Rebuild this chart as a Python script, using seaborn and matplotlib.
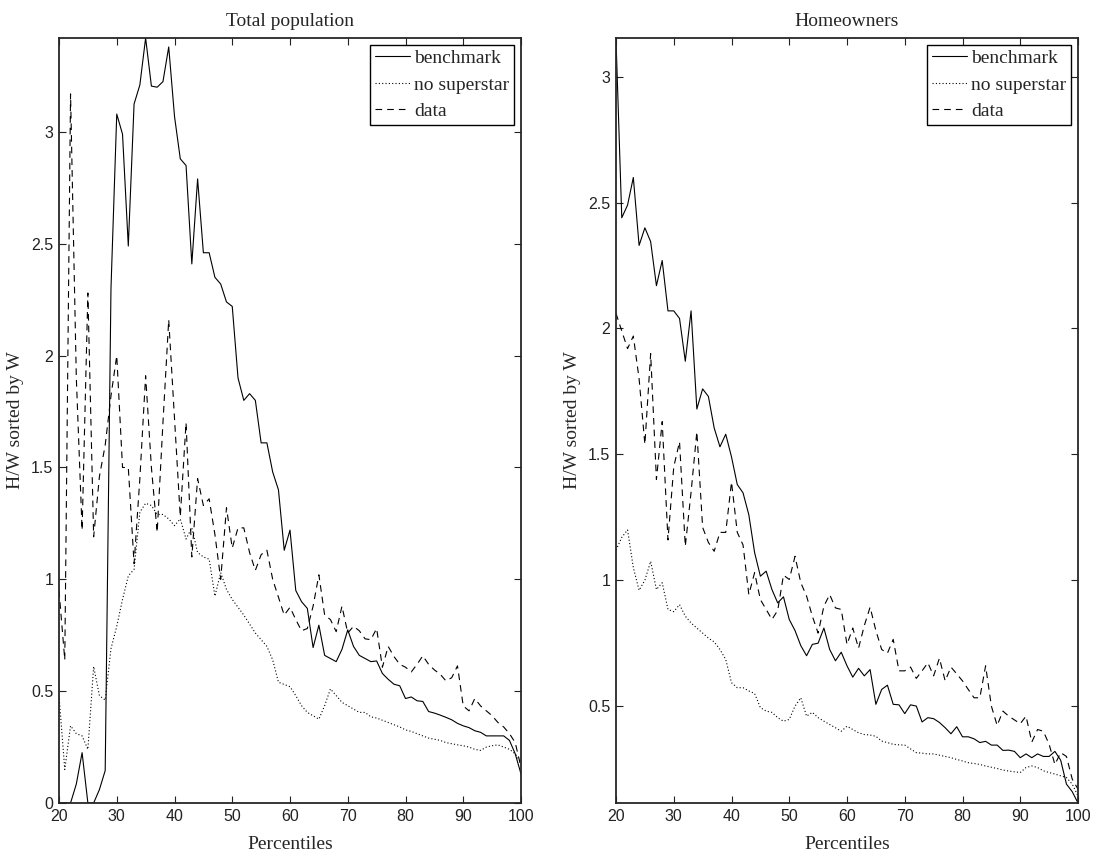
import matplotlib
matplotlib.use("Agg")
import matplotlib.pyplot as plt
import seaborn as sns
from matplotlib.ticker import FuncFormatter

percentiles = list(range(20, 101))

total_benchmark = [0, 0, 0, 0.085, 0.225, 0, 0, 0.06, 0.145, 2.3,
                   3.08, 2.99, 2.49, 3.125, 3.21, 3.42, 3.205, 3.20, 3.225, 3.38,
                   3.07, 2.88, 2.85, 2.41, 2.79, 2.46, 2.46, 2.35, 2.32, 2.24,
                   2.22, 1.90, 1.80, 1.83, 1.80, 1.61, 1.61, 1.48, 1.40, 1.13,
                   1.22, 0.95, 0.90, 0.87, 0.695, 0.795, 0.66, 0.646, 0.632, 0.687,
                   0.774, 0.70, 0.66, 0.646, 0.632, 0.635, 0.579, 0.553, 0.531, 0.524,
                   0.467, 0.474, 0.457, 0.454, 0.409, 0.402, 0.393, 0.383, 0.372, 0.356,
                   0.345, 0.337, 0.323, 0.316, 0.30, 0.30, 0.30, 0.30, 0.28, 0.22,
                   0.13]
total_nosuperstar = [0.48, 0.15, 0.345, 0.31, 0.30, 0.24, 0.61, 0.48, 0.46, 0.69,
                     0.79, 0.91, 1.015, 1.045, 1.3, 1.34, 1.33, 1.29, 1.29, 1.27,
                     1.24, 1.27, 1.18, 1.23, 1.12, 1.10, 1.09, 0.925, 1.03, 0.955,
                     0.91, 0.875, 0.84, 0.80, 0.76, 0.73, 0.70, 0.64, 0.54, 0.53,
                     0.52, 0.48, 0.435, 0.405, 0.39, 0.375, 0.435, 0.51, 0.48, 0.45,
                     0.435, 0.42, 0.405, 0.405, 0.385, 0.38, 0.37, 0.36, 0.35, 0.34,
                     0.327, 0.32, 0.31, 0.30, 0.29, 0.285, 0.28, 0.27, 0.265, 0.26,
                     0.256, 0.25, 0.24, 0.235, 0.25, 0.256, 0.26, 0.25, 0.24, 0.22,
                     0.18]
total_data = [0.95, 0.64, 3.17, 1.9, 1.22, 2.28, 1.19, 1.46, 1.6, 1.82,
              2.0, 1.5, 1.5, 1.07, 1.45, 1.91, 1.5, 1.21, 1.7, 2.16,
              1.72, 1.28, 1.7, 1.1, 1.45, 1.33, 1.36, 1.2, 1.0, 1.32,
              1.14, 1.23, 1.23, 1.12, 1.04, 1.11, 1.13, 1.0, 0.92, 0.84,
              0.875, 0.82, 0.77, 0.78, 0.88, 1.02, 0.84, 0.82, 0.766, 0.88,
              0.76, 0.79, 0.77, 0.734, 0.73, 0.78, 0.607, 0.70, 0.655, 0.62,
              0.607, 0.586, 0.62, 0.658, 0.62, 0.595, 0.576, 0.546, 0.56, 0.613,
              0.434, 0.412, 0.467, 0.434, 0.412, 0.39, 0.36, 0.34, 0.31, 0.27,
              0.16]

owner_benchmark = [3.15, 2.44, 2.49, 2.60, 2.33, 2.40, 2.345, 2.17, 2.27, 2.07,
                   2.07, 2.04, 1.87, 2.07, 1.68, 1.76, 1.73, 1.605, 1.53, 1.58,
                   1.49, 1.38, 1.347, 1.26, 1.11, 1.016, 1.036, 0.963, 0.91, 0.934,
                   0.844, 0.80, 0.74, 0.70, 0.745, 0.75, 0.81, 0.725, 0.68, 0.714,
                   0.66, 0.615, 0.65, 0.62, 0.645, 0.507, 0.566, 0.583, 0.507, 0.505,
                   0.47, 0.505, 0.50, 0.437, 0.454, 0.45, 0.435, 0.414, 0.39, 0.418,
                   0.378, 0.378, 0.37, 0.355, 0.36, 0.345, 0.345, 0.324, 0.325, 0.32,
                   0.295, 0.31, 0.295, 0.31, 0.30, 0.30, 0.32, 0.285, 0.19, 0.16,
                   0.115]
owner_nosuperstar = [1.12, 1.17, 1.2, 1.05, 0.96, 1.0, 1.075, 0.963, 0.99, 0.884,
                     0.875, 0.903, 0.857, 0.83, 0.81, 0.79, 0.77, 0.755, 0.725, 0.685,
                     0.593, 0.573, 0.573, 0.56, 0.55, 0.494, 0.48, 0.475, 0.454, 0.44,
                     0.447, 0.50, 0.533, 0.46, 0.475, 0.454, 0.44, 0.427, 0.414, 0.40,
                     0.42, 0.407, 0.394, 0.387, 0.385, 0.38, 0.361, 0.355, 0.348, 0.346,
                     0.345, 0.33, 0.315, 0.313, 0.31, 0.31, 0.305, 0.30, 0.295, 0.288,
                     0.282, 0.275, 0.272, 0.268, 0.262, 0.257, 0.252, 0.246, 0.242, 0.239,
                     0.236, 0.256, 0.262, 0.256, 0.243, 0.236, 0.23, 0.223, 0.216, 0.19,
                     0.143]
owner_data = [2.06, 1.99, 1.92, 1.97, 1.8, 1.54, 1.9, 1.40, 1.63, 1.16,
              1.45, 1.55, 1.135, 1.35, 1.59, 1.21, 1.15, 1.115, 1.19, 1.19,
              1.39, 1.19, 1.14, 0.943, 1.03, 0.923, 0.884, 0.844, 0.88, 1.02,
              1.003, 1.095, 0.99, 0.937, 0.857, 0.79, 0.897, 0.943, 0.89, 0.884,
              0.745, 0.81, 0.73, 0.82, 0.893, 0.80, 0.725, 0.71, 0.765, 0.64,
              0.64, 0.655, 0.61, 0.64, 0.672, 0.62, 0.69, 0.60, 0.655, 0.628,
              0.60, 0.566, 0.533, 0.533, 0.66, 0.50, 0.423, 0.48, 0.46, 0.445,
              0.43, 0.46, 0.357, 0.407, 0.40, 0.348, 0.268, 0.315, 0.30, 0.21,
              0.17]

series_labels = ["benchmark", "no superstar", "data"]
panel_titles = ["Total population", "Homeowners"]
xticks = [20, 30, 40, 50, 60, 70, 80, 90, 100]

sns.set_style("white")
plt.rcParams["font.family"] = ["Liberation Serif", "DejaVu Serif"]

fig = plt.figure(figsize=(10.99, 8.60), dpi=100)
ax1 = fig.add_axes([59 / 1099, 57 / 860, 462 / 1099, 765 / 860])
ax2 = fig.add_axes([616 / 1099, 57 / 860, 462 / 1099, 765 / 860])

styles = ["-", (0, (1.0, 2.0)), (0, (6.0, 4.5))]
panels = [
    (ax1, [total_benchmark, total_nosuperstar, total_data], (0, 3.42), [0, 0.5, 1, 1.5, 2, 2.5, 3]),
    (ax2, [owner_benchmark, owner_nosuperstar, owner_data], (0.115, 3.154), [0.5, 1, 1.5, 2, 2.5, 3]),
]

tick_family = ["Liberation Sans", "DejaVu Sans"]
fmt = FuncFormatter(lambda v, pos: "%g" % v)

for (ax, series, ylim, yticks), title in zip(panels, panel_titles):
    for vals, lab, ls in zip(series, series_labels, styles):
        sns.lineplot(x=percentiles, y=vals, ax=ax, color="black", linewidth=0.8,
                     linestyle=ls, label=lab)
    ax.set_xlim(20, 100)
    ax.set_ylim(*ylim)
    ax.set_xticks(xticks)
    ax.set_yticks(yticks)
    ax.yaxis.set_major_formatter(fmt)
    ax.tick_params(direction="in", length=5, width=0.8, top=True, right=True,
                   bottom=True, left=True, colors="#222222", pad=4)
    for lbl in ax.get_xticklabels() + ax.get_yticklabels():
        lbl.set_fontfamily(tick_family)
        lbl.set_fontsize(11.5)
    for sp in ax.spines.values():
        sp.set_visible(True)
        sp.set_color("#262626")
        sp.set_linewidth(1.3)
    ax.set_title(title, fontsize=14, pad=9)
    ax.set_xlabel("Percentiles", fontsize=14, labelpad=9)
    ax.set_ylabel("H/W sorted by W", fontsize=14, labelpad=5)
    leg = ax.legend(loc="upper right", frameon=True, fancybox=False, framealpha=1,
                    edgecolor="black", prop={"family": "Liberation Serif", "size": 14},
                    handlelength=1.8, handletextpad=0.2, borderaxespad=0.35,
                    labelspacing=0.45, borderpad=0.25)
    leg.get_frame().set_linewidth(1.0)
    for h in leg.get_lines():
        h.set_linewidth(0.8)

fig.savefig("out.png", dpi=100)
